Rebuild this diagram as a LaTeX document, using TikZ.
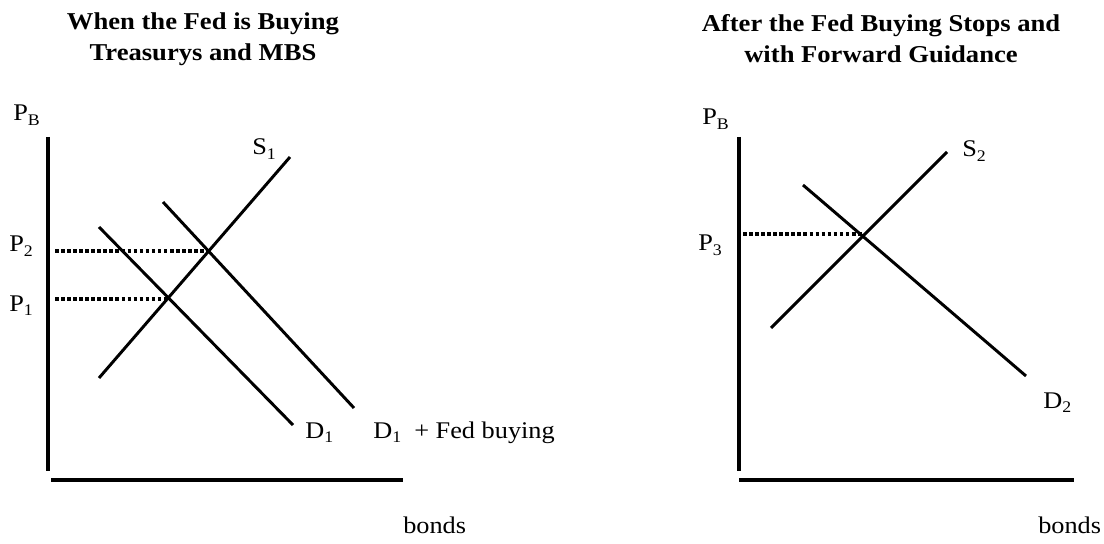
\documentclass[tikz,border=0pt]{standalone}
\usepackage{fontspec}
\setmainfont{Liberation Serif}[FakeStretch=1.1]
\usetikzlibrary{positioning}
\newcommand\sbs[1]{\raisebox{-0.45ex}{\fontsize{11.5}{11.5}\selectfont #1}}

\begin{document}
\begin{tikzpicture}[x=0.025cm,y=-0.025cm,font=\fontsize{17}{20}\selectfont,
  axis/.style={line width=2.9pt},
  curve/.style={line width=2.1pt},
  guide/.style={line width=2.6pt,dash pattern=on 2.6pt off 1.7pt},
  lbl/.style={anchor=base west,inner sep=0pt},
  title/.style={font=\fontsize{17.2}{22}\selectfont\bfseries,align=center,inner sep=0pt}]
 \useasboundingbox (0,0) rectangle (1104,544);
 % titles
 \node[title] (tl) at (203,39) {When the Fed is Buying\\Treasurys and MBS};
 \node[title] (tr) at (881,39) {After the Fed Buying Stops and\\with Forward Guidance};
 % left chart
 \coordinate (ly0) at (48,137); \coordinate (lo) at (48,471);
 \coordinate (lx0) at (51,480); \coordinate (lx1) at (403,480);
 \draw[axis] (ly0) -- (lo); \draw[axis] (lx0) -- (lx1);
 \coordinate (s1a) at (99,378); \coordinate (s1b) at (290,157);
 \coordinate (d1a) at (99,227); \coordinate (d1b) at (293,425);
 \coordinate (dfa) at (163,202); \coordinate (dfb) at (354,408);
 \draw[curve] (s1a) -- (s1b);
 \draw[curve] (d1a) -- (d1b);
 \draw[curve] (dfa) -- (dfb);
 \coordinate (e2) at (208,251); \coordinate (p2a) at (55,251);
 \coordinate (e1) at (168,299); \coordinate (p1a) at (55,299);
 \draw[guide] (p2a) -- (e2);
 \draw[guide] (p1a) -- (e1);
 \node[lbl] (pbl) at (13,121) {P\sbs{B}};
 \node[lbl] (p2) at (9,252) {P\sbs{2}};
 \node[lbl] (p1) at (9,311) {P\sbs{1}};
 \node[lbl] (s1) at (252,155) {S\sbs{1}};
 \node[lbl] (d1) at (305,438) {D\sbs{1}};
 \node[lbl] (df) at (373,438) {D\sbs{1}\ \ + Fed buying};
 \node[lbl] (bl) at (403,533) {bonds};
 % right chart
 \coordinate (ry0) at (739,137); \coordinate (ro) at (739,471);
 \coordinate (rx0) at (739,480); \coordinate (rx1) at (1074,480);
 \draw[axis] (ry0) -- (ro); \draw[axis] (rx0) -- (rx1);
 \coordinate (s2a) at (771,328); \coordinate (s2b) at (947,152);
 \coordinate (d2a) at (803,185); \coordinate (d2b) at (1026,376);
 \draw[curve] (s2a) -- (s2b);
 \draw[curve] (d2a) -- (d2b);
 \coordinate (e3) at (862,234); \coordinate (p3a) at (743,234);
 \draw[guide] (p3a) -- (e3);
 \node[lbl] (pbr) at (702,125) {P\sbs{B}};
 \node[lbl] (p3) at (698,251) {P\sbs{3}};
 \node[lbl] (s2) at (962,157) {S\sbs{2}};
 \node[lbl] (d2) at (1043,408) {D\sbs{2}};
 \node[lbl] (br) at (1038,533) {bonds};
\end{tikzpicture}
\end{document}
